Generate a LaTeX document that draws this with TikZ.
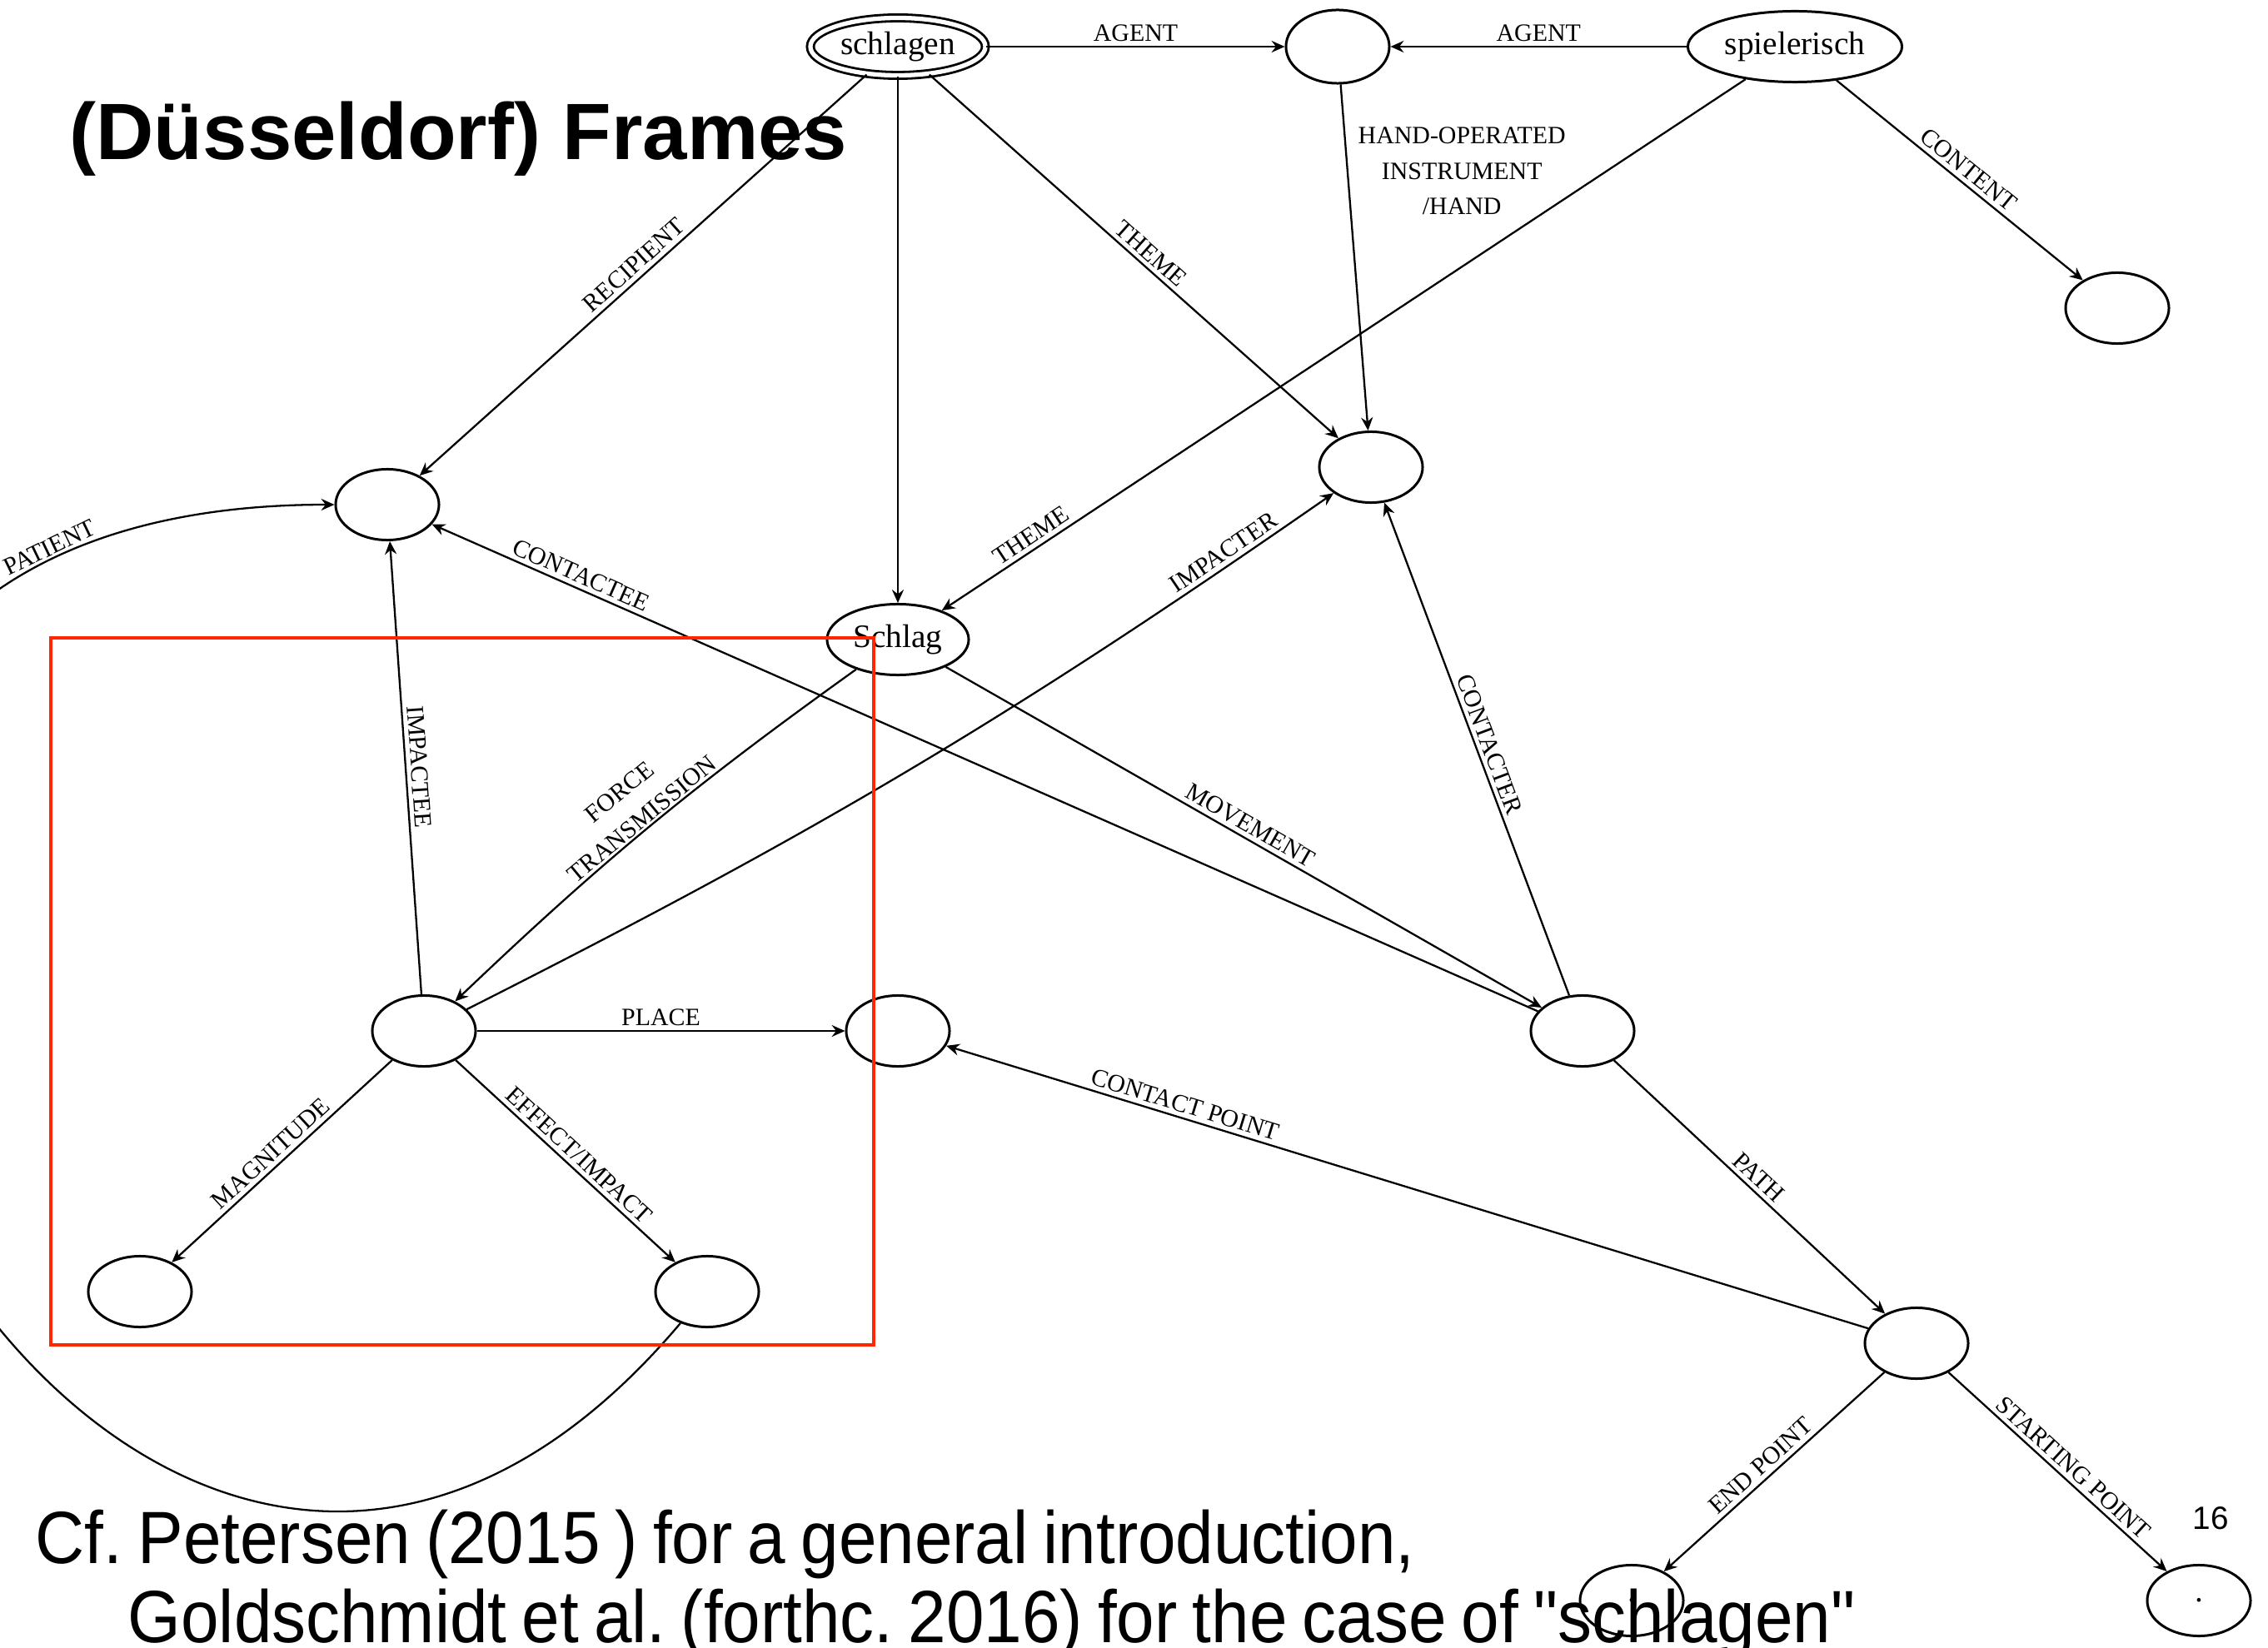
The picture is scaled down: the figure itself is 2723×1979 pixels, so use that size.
\documentclass[tikz,border=0pt]{standalone}
\usepackage{fontspec}
\setmainfont{Liberation Serif}
\newfontfamily\titlefont{Liberation Sans}
\newfontfamily\notefont[FakeStretch=0.92, WordSpace=0.8]{Liberation Sans}
\usetikzlibrary{shapes.geometric}
\usetikzlibrary{arrows.meta}
\definecolor{boxred}{RGB}{255,38,0}
\frenchspacing

\tikzset{
  frame/.style = {ellipse, draw, line width = 0.85pt, minimum width = 1.24cm, minimum height = 0.85cm, inner sep = 0pt, font = \fontsize{11.2}{13}\selectfont},
  attr/.style = {->, line width = 0.65pt},
  lbl/.style = {font = \fontsize{8.5}{12}\selectfont, sloped, inner sep = 1.5pt},
}

\begin{document}
\begin{tikzpicture}[x = 0.01cm, y = -0.01cm, >={Stealth[length=4.5pt, width=4pt, inset=1.5pt]}]
		\useasboundingbox [fill = white] (0, 0) rectangle (2723, 1979);

		\node [frame, double, double distance = 1.5pt, line width = 0.8pt, minimum width = 2.1cm, minimum height = 0.69cm] (schlagen) at (1078, 56) {schlagen};
		\node [frame, minimum height = 0.88cm] (agent) at (1606, 56) {};
		\node [frame, minimum width = 2.57cm] (spiel) at (2155, 56) {spielerisch};
		\node [frame] (content) at (2542, 370) {};
		\node [frame] (recip) at (465, 606) {};
		\node [frame] (theme) at (1646, 561) {};
		\node [frame, minimum width = 1.7cm] (schlag) at (1078, 768) {Schlag};
		\node [frame] (force) at (509, 1238) {};
		\node [frame] (place) at (1078, 1238) {};
		\node [frame] (move) at (1900, 1238) {};
		\node [frame] (magn) at (168, 1551) {};
		\node [frame] (effect) at (849, 1551) {};
		\node [frame] (route) at (2301, 1613) {};
		\node [frame] (endpt) at (1959, 1922) {.};
		\node [frame] (startpt) at (2640, 1922) {.};

		\draw [attr] (schlagen) -- (agent) node [lbl, midway, above] {AGENT};
		\draw [attr] (spiel) -- (agent) node [lbl, midway, above] {AGENT};
		\draw [attr] (agent) -- (theme) node [pos = 0.25, right, font = \fontsize{8.5}{12}\selectfont, align = center] {HAND-OPERATED\\INSTRUMENT\\/HAND};
		\draw [attr] (schlagen) -- (theme) node [lbl, pos = 0.52, above] {THEME};
		\draw [attr] (spiel) -- (schlag) node [lbl, pos = 0.88, above] {THEME};
		\draw [attr] (spiel) -- (content) node [lbl, midway, above] {CONTENT};
		\draw [attr] (schlagen) -- (recip) node [lbl, midway, above] {RECIPIENT};
		\draw [attr] (schlagen) -- (schlag);
		\draw [attr] (move) -- (recip) node [lbl, pos = 0.87, above] {CONTACTEE};
		\draw [attr] (schlag) -- (move) node [lbl, midway, above] {MOVEMENT};
		\draw [attr] (schlag) to [bend right = 4] node [lbl, pos = 0.5, above, inner sep = 0.5pt, align = center] {FORCE\\TRANSMISSION} (force);
		\draw [attr] (force) to [bend right = 4] node [lbl, pos = 0.89, above] {IMPACTER} (theme);
		\draw [attr] (force) -- (recip) node [lbl, midway, above] {IMPACTEE};
		\draw [attr] (force) -- (place) node [lbl, midway, above] {PLACE};
		\draw [attr] (force) -- (magn) node [lbl, pos = 0.51, above] {MAGNITUDE};
		\draw [attr] (force) -- (effect) node [lbl, pos = 0.52, above] {EFFECT/IMPACT};
		\draw [attr] (move) -- (theme) node [lbl, midway, above] {CONTACTER};
		\draw [attr] (route) -- (place) node [lbl, pos = 0.745, above] {CONTACT POINT};
		\draw [attr] (move) -- (route) node [lbl, pos = 0.5, above] {PATH};
		\draw [attr] (route) -- (endpt) node [lbl, pos = 0.52, above] {END POINT};
		\draw [attr] (route) -- (startpt) node [lbl, pos = 0.53, above] {STARTING POINT};

		% the long PATIENT loop runs off the left edge
		\draw [attr] (effect) .. controls (96, 2442) and (-800, 606) .. (recip) node [lbl, pos = 0.885, above] {PATIENT};

		\draw [boxred, line width = 1.4pt] (61, 766) rectangle (1049, 1615);

		\node [anchor = base west, inner sep = 0pt, font = \titlefont\bfseries\fontsize{27.3}{32}\selectfont] (title) at (83, 192) {(Düsseldorf) Frames};
		\node [anchor = base west, inner sep = 0pt, font = \notefont\fontsize{25.3}{27}\selectfont] (cite1) at (42, 1877) {Cf. Petersen (2015 ) for a general introduction,};
		\node [anchor = base west, inner sep = 0pt, font = \notefont\fontsize{25.3}{27}\selectfont] (cite2) at (153, 1972) {Goldschmidt et al. (forthc. 2016) for the case of "schlagen"};
		\node [font = \titlefont\fontsize{11}{13}\selectfont] (pagenum) at (2654, 1823) {16};
	\end{tikzpicture}
\end{document}
